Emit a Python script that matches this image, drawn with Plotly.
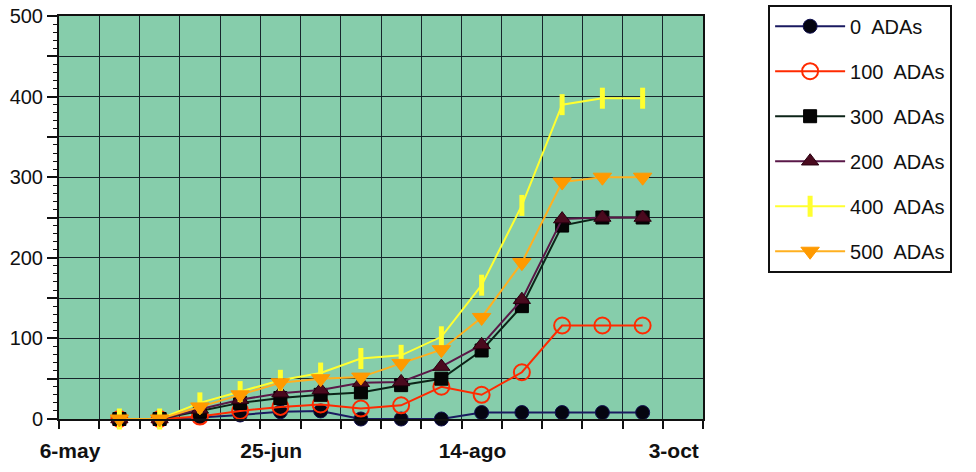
import plotly.graph_objects as go

# Sampling dates (every 10 days) and cumulative counts per treatment
dates = ["2002-05-21", "2002-05-31", "2002-06-10", "2002-06-20", "2002-06-30",
         "2002-07-10", "2002-07-20", "2002-07-30", "2002-08-09", "2002-08-19",
         "2002-08-29", "2002-09-08", "2002-09-18", "2002-09-28"]

ada_0 = [0, 0, 2, 5, 9, 10, 0, 0, 0, 8, 8, 8, 8, 8]
ada_100 = [0, 0, 3, 10, 15, 18, 13, 17, 40, 30, 58, 116, 116, 116]
ada_300 = [0, 0, 10, 20, 26, 30, 33, 42, 50, 85, 140, 240, 250, 250]
ada_200 = [0, 0, 12, 24, 32, 36, 45, 46, 65, 92, 148, 248, 250, 250]
ada_400 = [0, 0, 20, 34, 48, 57, 75, 79, 102, 166, 265, 390, 398, 398]
ada_500 = [0, 0, 15, 30, 45, 50, 52, 69, 86, 126, 194, 294, 300, 300]

x_tick_vals = ["2002-05-06", "2002-06-25", "2002-08-14", "2002-10-03"]
x_tick_text = ["6-may", "25-jun", "14-ago", "3-oct"]
y_tick_vals = [0, 50, 100, 150, 200, 250, 300, 350, 400, 450, 500]
y_tick_text = ["0", "", "100", "", "200", "", "300", "", "400", "", "500"]

series = [
    ("0  ADAs", ada_0, dict(symbol="circle", size=14, color="#050510",
                            line=dict(color="#101050", width=1)), "#1a1a60"),
    ("100  ADAs", ada_100, dict(symbol="circle-open", size=16, color="#ff2a00",
                                line=dict(color="#ff2a00", width=2)), "#ff2a00"),
    ("300  ADAs", ada_300, dict(symbol="square", size=13, color="#050505",
                                line=dict(color="#000000", width=1)), "#0c2418"),
    ("200  ADAs", ada_200, dict(symbol="triangle-up", size=15, color="#4a0a1e",
                                line=dict(color="#2a0010", width=1)), "#5a1848"),
    ("400  ADAs", ada_400, dict(symbol="line-ns", size=15, color="#ffff30",
                                line=dict(color="#ffff30", width=5)), "#ffff30"),
    ("500  ADAs", ada_500, dict(symbol="triangle-down", size=16, color="#ff9a00",
                                line=dict(color="#ff9a00", width=1)), "#ffb020"),
]

fig = go.Figure()
for i, (name, values, marker, line_color) in enumerate(series):
    fig.add_trace(go.Scatter(
        x=dates, y=values, name=name, mode="lines+markers",
        line=dict(color=line_color, width=2), marker=marker,
        legendgroup=f"g{i}", cliponaxis=False,
    ))

grid_color = "#17262c"
fig.update_layout(
    width=976, height=472,
    margin=dict(l=59, r=273, t=16, b=53),
    paper_bgcolor="white",
    plot_bgcolor="#86cdab",
    font=dict(family="Liberation Sans, Arial, sans-serif", color="#111111"),
    showlegend=True,
    legend=dict(
        xref="container", yref="container",
        x=0.787, xanchor="left", y=0.99, yanchor="top",
        bgcolor="white", bordercolor="#111111", borderwidth=2,
        font=dict(size=20, color="#111111"),
        tracegroupgap=16, itemwidth=70, maxheight=1,
    ),
    xaxis=dict(
        type="date", automargin=False,
        range=["2002-05-06", "2002-10-13"],
        tickmode="array", tickvals=x_tick_vals, ticktext=x_tick_text,
        ticks="outside", ticklen=8, tickwidth=1.5, tickcolor="#111111",
        tickfont=dict(size=21, family="Liberation Sans, Arial, sans-serif", color="#111111", weight="bold"),
        ticklabelshift=11, ticklabelstandoff=4,
        showgrid=True, gridcolor=grid_color, gridwidth=1,
        minor=dict(tick0="2002-05-06", dtick=10 * 86400000, ticks="outside",
                   ticklen=8, tickwidth=1.5, tickcolor="#111111",
                   showgrid=True, gridcolor=grid_color, gridwidth=1),
        showline=True, linecolor="#111111", linewidth=2, mirror=True,
        zeroline=False, fixedrange=True,
    ),
    yaxis=dict(
        range=[0, 500], automargin=False,
        tickmode="array", tickvals=y_tick_vals, ticktext=y_tick_text,
        ticks="outside", ticklen=10, tickwidth=1.5, tickcolor="#111111",
        tickfont=dict(size=20, color="#111111"),
        showgrid=True, gridcolor=grid_color, gridwidth=1,
        minor=dict(dtick=10, ticks="outside", ticklen=4, tickwidth=1,
                   tickcolor="#111111", showgrid=False),
        showline=True, linecolor="#111111", linewidth=2, mirror=True,
        zeroline=False, fixedrange=True,
    ),
)

fig.write_html("out.html")
